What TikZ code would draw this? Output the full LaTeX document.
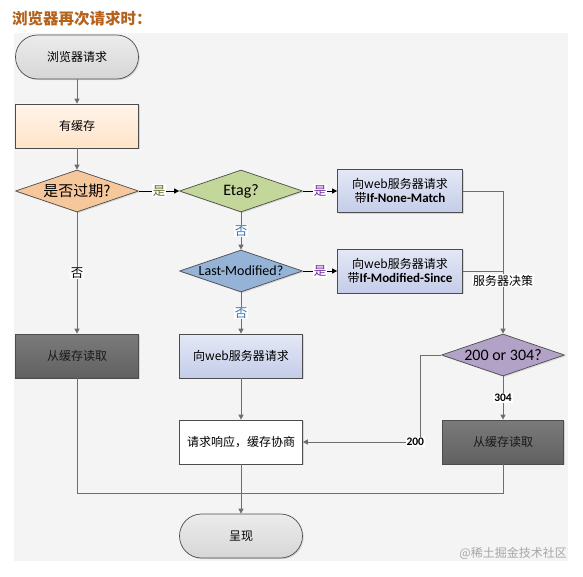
\documentclass[tikz,border=0pt]{standalone}
\usepackage{fontspec}
\setmainfont{Noto Sans CJK SC}
\newfontfamily\lat{Carlito}
\usetikzlibrary{shapes,arrows.meta,positioning,calc,shadows}

\definecolor{panelbg}{HTML}{F4F4F4}
\definecolor{titlecol}{HTML}{B5621C}
\definecolor{yesgreen}{HTML}{5F7530}
\definecolor{yespurple}{HTML}{7030A0}
\definecolor{noblue}{HTML}{2E75B6}
\definecolor{linegray}{HTML}{6E6E6E}

\tikzset{
  base/.style={draw=black!70, line width=0.7pt, align=center,
    font=\fontsize{12}{15}\selectfont,
    drop shadow={shadow xshift=1.2pt, shadow yshift=-1.2pt, opacity=0.25}},
  term/.style={base, rectangle, rounded corners=22pt, minimum width=123pt,
    minimum height=44pt, top color=gray!15, bottom color=gray!32},
  proc/.style={base, rectangle, minimum width=123pt, minimum height=44pt},
  dec/.style={base, diamond, aspect=2.9, minimum width=123pt,
    minimum height=42pt, inner sep=0pt},
  line/.style={draw=linegray, line width=0.8pt},
  arr/.style={line, -{Triangle[length=5pt,width=5pt]}},
  tag/.style={fill=white, inner sep=1pt, font=\fontsize{12.5}{14}\selectfont},
  numtag/.style={tag, font=\lat\bfseries\fontsize{11.5}{13}\selectfont},
}

\begin{document}
\begin{tikzpicture}[x=1pt, y=-1pt]
    \useasboundingbox (0,0) rectangle (583,577);

    % panel and title
    \fill[panelbg] (14,33) rectangle (568,561);
    \node[anchor=west, inner sep=0pt, text=titlecol,
      font=\bfseries\fontsize{15.5}{18}\selectfont] (title) at (12,19) {浏览器再次请求时：};

    % left column
    \node[term] (start) at (77,57) {浏览器请求};
    \node[proc, top color=orange!8, bottom color=orange!22] (cache) at (77,126) {有缓存};
    \node[dec, fill={rgb,255:red,247;green,199;blue,156}, font=\fontsize{15}{18}\selectfont] (expired) at (77,191) {是否过期?};
    \node[proc, top color=black!52, bottom color=black!62, text=black!90] (readL) at (77,356) {从缓存读取};

    % middle column
    \node[dec, fill={rgb,255:red,196;green,215;blue,155}, font=\lat\fontsize{16}{18}\selectfont] (etag) at (241,191) {Etag?};
    \node[dec, fill={rgb,255:red,149;green,179;blue,215}, font=\lat\fontsize{14}{16}\selectfont] (lm) at (241,271) {Last-Modified?};
    \node[proc, top color={rgb,255:red,228;green,232;blue,246}, bottom color={rgb,255:red,196;green,204;blue,232}] (req) at (241,356) {向web服务器请求};
    \node[proc, fill=white] (resp) at (241,442) {请求响应，缓存协商};
    \node[term] (present) at (241,536) {呈现};

    % right column
    \node[proc, minimum width=125pt, minimum height=43pt, top color={rgb,255:red,228;green,232;blue,246}, bottom color={rgb,255:red,196;green,204;blue,232}, font=\fontsize{12}{14}\selectfont] (inm) at (400,191) {向web服务器请求\\带{\lat\bfseries\fontsize{13}{14}\selectfont If-None-Match}};
    \node[proc, minimum width=125pt, minimum height=44pt, top color={rgb,255:red,228;green,232;blue,246}, bottom color={rgb,255:red,196;green,204;blue,232}, font=\fontsize{12}{14}\selectfont] (ims) at (400,271) {向web服务器请求\\带{\lat\bfseries\fontsize{13}{14}\selectfont If-Modified-Since}};
    \node[dec, fill={rgb,255:red,179;green,162;blue,199}, font=\lat\fontsize{16}{18}\selectfont] (decide) at (503,355) {200 or 304?};
    \node[proc, minimum width=121pt, top color=black!52, bottom color=black!62, text=black!90] (readR) at (503,442) {从缓存读取};

    % bends
    \coordinate (j1) at (503,191);
    \coordinate (j2) at (503,271);
    \coordinate (c200) at (420,355);
    \coordinate (c200b) at (420,442);
    \coordinate (mL) at (77,493);
    \coordinate (mR) at (503,493);
    \coordinate (mC) at (241,493);

    % connectors
    \draw[arr] (start) -- (cache);
    \draw[arr] (cache) -- (expired);
    \draw[arr, draw=black] (expired) -- node[tag, text=yesgreen]{是} (etag);
    \draw[arr] (expired) -- node[tag]{否} (readL);
    \draw[arr] (etag) -- node[tag, text=noblue]{否} (lm);
    \draw[arr, draw=black] (etag) -- node[tag, text=yespurple]{是} (inm);
    \draw[arr, draw=black] (lm) -- node[tag, text=yespurple]{是} (ims);
    \draw[arr] (lm) -- node[tag, text=noblue]{否} (req);
    \draw[arr] (inm.east) -- (j1) -- node[tag, pos=0.63, font=\fontsize{12}{14}\selectfont]{服务器决策} (decide.north);
    \draw[line] (ims.east) -- (j2);
    \draw[arr] (decide) -- node[numtag]{304} (readR);
    \draw[arr] (decide.west) -- (c200) -- (c200b) -- node[numtag, pos=0.04]{200} (resp.east);
    \draw[arr] (req) -- (resp);
    \draw[line] (readL) -- (mL) -- (mC);
    \draw[line] (readR) -- (mR) -- (mC);
    \draw[arr] (resp) -- (present);

    % watermark
    \node[anchor=east, inner sep=0pt, text=black!35, font=\fontsize{12}{14}\selectfont] (mark) at (567,553) {@稀土掘金技术社区};
\end{tikzpicture}
\end{document}
